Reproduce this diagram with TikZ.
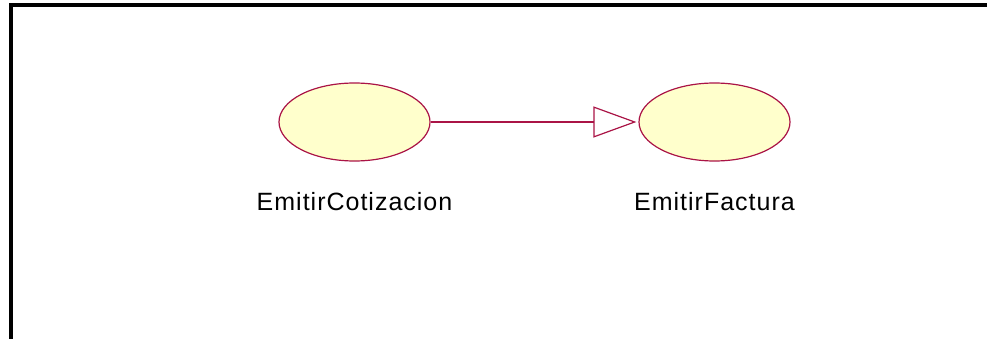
\documentclass[tikz,border=0pt]{standalone}
\usepackage{fontspec}
\newfontfamily\ucfont{Liberation Sans}[LetterSpace=4]
\usetikzlibrary{shapes.geometric,arrows.meta}
\definecolor{ucline}{RGB}{170,20,70}
\definecolor{ucfill}{RGB}{255,255,204}
\begin{document}
\begin{tikzpicture}[x=1pt,y=-1pt,
    usecase/.style={ellipse,draw=ucline,fill=ucfill,line width=1.2pt,
        minimum width=151pt,minimum height=78pt,inner sep=0pt},
    uclabel/.style={anchor=base,inner sep=0pt,font=\ucfont\fontsize{25}{30}\selectfont},
    generalize/.style={draw=ucline,line width=1.2pt,
        -{Triangle[open,length=43pt,width=31pt,fill=white]},shorten >=2pt}]
    \useasboundingbox (0,0) rectangle (987,339);
    % frame
    \draw[line width=3.6pt] (11,400) -- (11,5) -- (1000,5);

    \node[usecase] (cotizacion) at (354.5,122) {};
    \node[usecase] (factura) at (714.5,122) {};
    \node[uclabel] (cotizacionlbl) at (354.5,210) {EmitirCotizacion};
    \node[uclabel] (facturalbl) at (714.5,210) {EmitirFactura};

    \draw[generalize] (cotizacion) -- (factura);
\end{tikzpicture}
\end{document}
